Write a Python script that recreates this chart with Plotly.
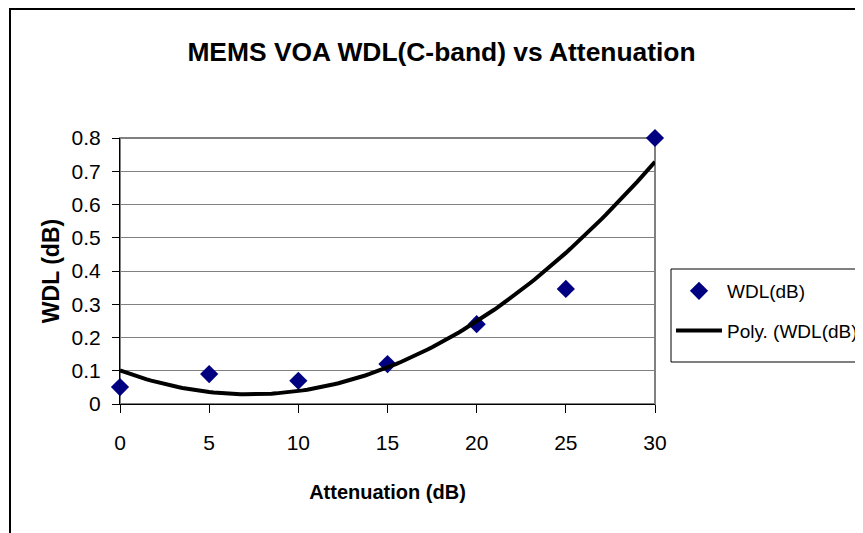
import numpy as np
import plotly.graph_objects as go

# ---- data ----
attenuation = [0, 5, 10, 15, 20, 25, 30]
wdl = [0.051, 0.090, 0.070, 0.120, 0.240, 0.346, 0.800]
x_ticks = [0, 5, 10, 15, 20, 25, 30]
y_ticks = [0, 0.1, 0.2, 0.3, 0.4, 0.5, 0.6, 0.7, 0.8]
y_tick_labels = ["0", "0.1", "0.2", "0.3", "0.4", "0.5", "0.6", "0.7", "0.8"]

# 2nd-order polynomial trendline (as Excel "Poly." trendline)
coef = np.polyfit(attenuation, wdl, 2)
xs = np.linspace(min(attenuation), max(attenuation), 121)
ys = np.polyval(coef, xs)

FONT = "Liberation Sans, Arial, sans-serif"
# page has an 8px body margin; figure coordinates are window coordinates minus 8
W, H = 863, 533
L, R, T, B = 112, 647, 130, 396
pw = R - L
ph = B - T

fig = go.Figure()
fig.add_trace(go.Scatter(
    x=attenuation, y=wdl, mode="markers", name="WDL(dB)",
    legendgroup="a",
    marker=dict(symbol="diamond", size=14, color="#000080"),
    cliponaxis=False,
))
fig.add_trace(go.Scatter(
    x=xs, y=ys, mode="lines", name="Poly. (WDL(dB))",
    legendgroup="b",
    line=dict(color="black", width=4),
    cliponaxis=False,
))

shapes = [
    # plot area border (gray)
    dict(type="rect", xref="x domain", yref="y domain", x0=0, x1=1, y0=0, y1=1,
         line=dict(color="#808080", width=2), layer="below"),
    # outer chart border
    dict(type="rect", xref="paper", yref="paper",
         x0=(2 - L) / pw, x1=(W + 20 - L) / pw,
         y0=(B - (H + 20)) / ph, y1=(B - 1) / ph,
         line=dict(color="black", width=2), fillcolor="rgba(0,0,0,0)"),
    # legend box
    dict(type="rect", xref="paper", yref="paper",
         x0=(663 - L) / pw, x1=(W + 20 - L) / pw,
         y0=(B - 354) / ph, y1=(B - 261) / ph,
         line=dict(color="black", width=1), fillcolor="white", layer="below"),
]

fig.update_layout(
    width=W, height=H,
    margin=dict(l=L, r=W - R, t=T, b=H - B, pad=0, autoexpand=False),
    paper_bgcolor="white", plot_bgcolor="white",
    font=dict(family=FONT, color="black", size=21),
    title=dict(text="<b>MEMS VOA WDL(C-band) vs Attenuation</b>",
               x=433.5 / W, xref="container", xanchor="center",
               y=1 - 44 / H, yref="container", yanchor="middle",
               font=dict(family=FONT, size=26.4, color="black")),
    showlegend=True,
    legend=dict(x=(663 - L) / pw, xanchor="left", y=(B - 264) / ph, yanchor="top",
                bgcolor="rgba(0,0,0,0)", borderwidth=0,
                font=dict(family=FONT, size=19, color="black"),
                tracegroupgap=12, itemwidth=46),
    shapes=shapes,
)

fig.update_xaxes(
    range=[0, 30], tickvals=x_ticks, ticktext=[str(v) for v in x_ticks],
    showgrid=False, zeroline=False,
    showline=True, linecolor="black", linewidth=1,
    ticks="outside", ticklen=8, tickcolor="black", tickwidth=1,
    ticklabelstandoff=12,
    tickfont=dict(family=FONT, size=21),
    title=dict(text="<b>Attenuation (dB)</b>", standoff=31,
               font=dict(family=FONT, size=20)),
)
fig.update_yaxes(
    range=[0, 0.8], tickvals=y_ticks, ticktext=y_tick_labels,
    showgrid=True, gridcolor="#808080", gridwidth=1,
    zeroline=False,
    showline=True, linecolor="black", linewidth=1,
    ticks="outside", ticklen=7, tickcolor="black", tickwidth=1,
    ticklabelstandoff=7,
    tickfont=dict(family=FONT, size=21),
    title=dict(text="<b>WDL (dB)</b>", standoff=5,
               font=dict(family=FONT, size=23)),
)

fig.write_html("out.html")
